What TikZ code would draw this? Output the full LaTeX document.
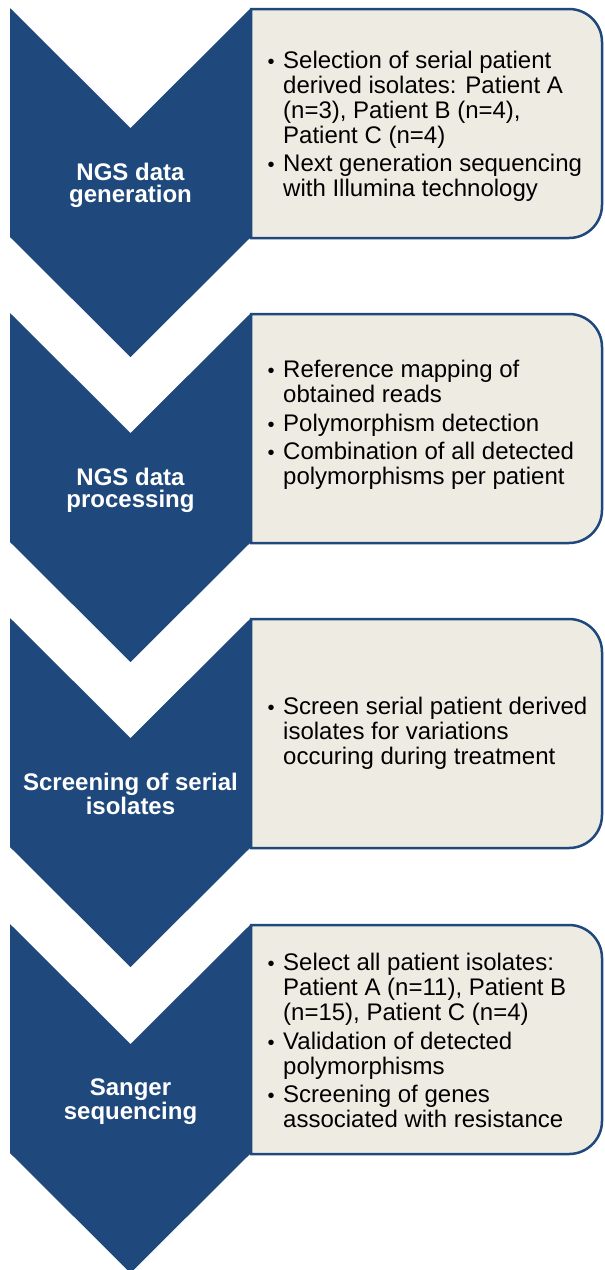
\documentclass[tikz,border=0pt]{standalone}
\usepackage{fontspec}
\setmainfont{Liberation Sans}
\definecolor{navy}{HTML}{1F497D}
\definecolor{paper}{HTML}{EEECE2}
\tikzset{
  chevron/.style={fill=navy, draw=none},
  infobox/.style={fill=paper, draw=navy, line width=2.5pt},
  steplabel/.style={text=white, align=center, inner sep=0pt, anchor=north,
    font=\fontsize{24}{22}\selectfont\bfseries},
  boxtext/.style={text=black, align=left, inner sep=0pt, anchor=north west,
    font=\fontsize{24}{25}\selectfont},
}
% bullet hung to the left of the item text
\newcommand{\itm}{\leavevmode\llap{{\fontsize{20}{25}\selectfont\textbullet}\hspace{8.5pt}}}
% one process step: chevron with its title and the panel beside it
% #1 top y, #2 name, #3 title
\newcommand{\stepchevron}[3]{%
  \draw[infobox] (251,#1+1) [rounded corners=33pt] -- (602,#1+1) -- (602,#1+230)
    [sharp corners] -- (251,#1+230) -- cycle;
  \fill[chevron] (10,#1) -- (130.5,#1+120) -- (251,#1) -- (251,#1+229)
    -- (130.5,#1+349) -- (10,#1+229) -- cycle;
  \node[steplabel] (#2) at (130.5,#1+155) {#3};
}
\begin{document}
\begin{tikzpicture}[x=1pt,y=-1pt]
\fill[white] (0,0) rectangle (605,1270);
\useasboundingbox (0,0) rectangle (605,1270);
\begin{scope}
\clip (0,0) rectangle (605,1270);
\stepchevron{8}{gen}{NGS data\\generation}
\stepchevron{313}{proc}{NGS data\\processing}
\stepchevron{618}{screen}{Screening of serial\\isolates}
\stepchevron{924}{sanger}{Sanger\\sequencing}
\end{scope}

\node[boxtext] (gentext) at (283,50.5) {\itm Selection of serial patient\\
  derived isolates: Patient A\\
  (n=3), Patient B (n=4),\\
  Patient C (n=4)\\[3.5pt]
  \itm Next generation sequencing\\
  with Illumina technology};

\node[boxtext] (proctext) at (283,360) {\itm Reference mapping of\\
  obtained reads\\[3.5pt]
  \itm Polymorphism detection\\[3.5pt]
  \itm Combination of all detected\\
  polymorphisms per patient};

\node[boxtext] (screentext) at (283,697) {\itm Screen serial patient derived\\
  isolates for variations\\
  occuring during treatment};

\node[boxtext] (sangertext) at (283,953) {\itm Select all patient isolates:\\
  Patient A (n=11), Patient B\\
  (n=15), Patient C (n=4)\\[3.5pt]
  \itm Validation of detected\\
  polymorphisms\\[3.5pt]
  \itm Screening of genes\\
  associated with resistance};
\end{tikzpicture}
\end{document}
